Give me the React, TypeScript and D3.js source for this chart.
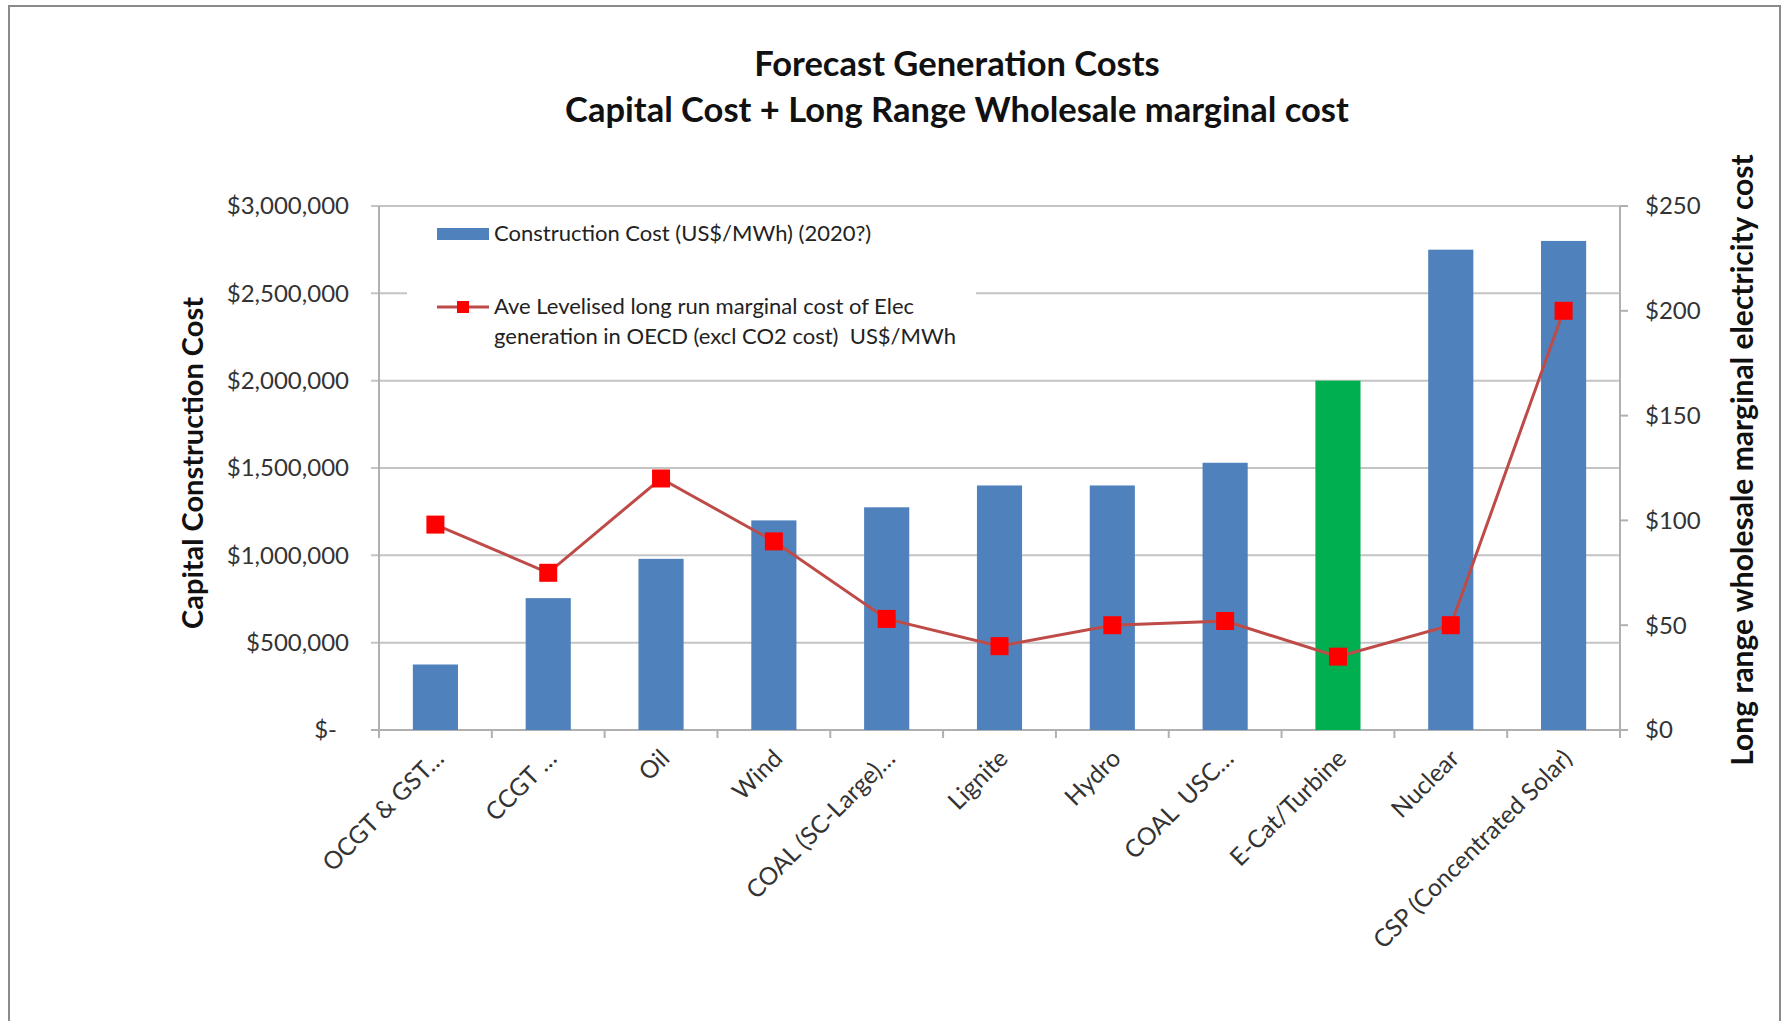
import React from "react";
import * as d3 from "d3";

// Technologies along the category axis
const categories = [
  "OCGT & GST…",
  "CCGT …",
  "Oil",
  "Wind",
  "COAL (SC-Large)…",
  "Lignite",
  "Hydro",
  "COAL  USC…",
  "E-Cat/Turbine",
  "Nuclear",
  "CSP (Concentrated Solar)",
];

// Capital construction cost (left axis)
const constructionCost = [
  375000, 755000, 980000, 1200000, 1275000, 1400000, 1400000, 1530000, 2000000,
  2750000, 2800000,
];

// Levelised long run marginal cost, US$/MWh (right axis)
const marginalCost = [98, 75, 120, 90, 53, 40, 50, 52, 35, 50, 200];

const highlightCategory = "E-Cat/Turbine";

const leftTicks = [0, 500000, 1000000, 1500000, 2000000, 2500000, 3000000];
const rightTicks = [0, 50, 100, 150, 200, 250];

const titleLines = [
  "Forecast Generation Costs",
  "Capital Cost + Long Range Wholesale marginal cost",
];
const leftTitle = "Capital Construction Cost";
const rightTitle = "Long range wholesale marginal electricity cost";
const barLegend = "Construction Cost (US$/MWh) (2020?)";
const lineLegend = [
  "Ave Levelised long run marginal cost of Elec",
  "generation in OECD (excl CO2 cost)  US$/MWh",
];

const W = 1783;
const H = 1021;
const plot = { left: 379, right: 1620, top: 206, bottom: 730 };

const FONT = "Lato, 'Open Sans', sans-serif";
const BLUE = "#4F81BD";
const GREEN = "#00B050";
const LINE_RED = "#BE4B48";
const MARKER_RED = "#FF0000";
const GRID = "#C4C4C4";
const AXIS = "#B0B0B0";

export default function App() {
  const x = d3
    .scaleBand<string>()
    .domain(categories)
    .range([plot.left, plot.right])
    .padding(0);
  const yL = d3.scaleLinear().domain([0, 3000000]).range([plot.bottom, plot.top]);
  const yR = d3.scaleLinear().domain([0, 250]).range([plot.bottom, plot.top]);

  const bw = x.bandwidth();
  const barW = bw * 0.4;
  const cx = (c: string) => (x(c) as number) + bw / 2;

  const fmtL = (v: number) => (v === 0 ? "$-" : "$" + d3.format(",")(v));
  const fmtR = (v: number) => "$" + v;

  const linePath = d3
    .line<number>()
    .x((_, i) => cx(categories[i]))
    .y((d) => yR(d))(marginalCost) as string;

  const boundaries = d3.range(categories.length + 1).map((i) => plot.left + i * bw);
  const markerSize = 18;

  return (
    <svg
      width={W}
      height={H}
      style={{ position: "absolute", left: 0, top: 0, background: "#fff" }}
      fontFamily={FONT}
    >
      <rect x={0} y={0} width={W} height={H} fill="#fff" />
      {/* chart frame */}
      <rect x={9} y={6} width={1771} height={1040} fill="none" stroke="#8A8A8A" strokeWidth={2} />

      {/* title */}
      {titleLines.map((t, i) => (
        <text
          key={t}
          x={957}
          y={76 + i * 46}
          textAnchor="middle"
          fontSize={34.5}
          fontWeight="bold"
          fill="#111"
        >
          {t}
        </text>
      ))}

      {/* gridlines */}
      {leftTicks.map((v) => (
        <line
          key={"g" + v}
          x1={plot.left - 8}
          x2={plot.right}
          y1={yL(v)}
          y2={yL(v)}
          stroke={v === 0 ? AXIS : GRID}
          strokeWidth={2}
        />
      ))}

      {/* axis lines */}
      <line x1={plot.left} x2={plot.left} y1={plot.top} y2={plot.bottom} stroke={AXIS} strokeWidth={2} />
      <line x1={plot.right} x2={plot.right} y1={plot.top} y2={plot.bottom} stroke={AXIS} strokeWidth={2} />
      {rightTicks.map((v) => (
        <line key={"rt" + v} x1={plot.right} x2={plot.right + 8} y1={yR(v)} y2={yR(v)} stroke={AXIS} strokeWidth={2} />
      ))}
      {boundaries.map((bx, i) => (
        <line key={"bt" + i} x1={bx} x2={bx} y1={plot.bottom} y2={plot.bottom + 8} stroke={AXIS} strokeWidth={2} />
      ))}

      {/* bars */}
      {categories.map((c, i) => (
        <rect
          key={"b" + c}
          x={cx(c) - barW / 2}
          y={yL(constructionCost[i])}
          width={barW}
          height={yL(0) - yL(constructionCost[i])}
          fill={c === highlightCategory ? GREEN : BLUE}
        />
      ))}

      {/* legend */}
      <rect x={407} y={214} width={569} height={146} fill="#fff" />
      <rect x={437} y={228} width={52} height={12} fill={BLUE} />
      <text x={494} y={241} fontSize={22} fill="#222">
        {barLegend}
      </text>
      <line x1={437} x2={489} y1={307} y2={307} stroke={LINE_RED} strokeWidth={3} />
      <rect x={457} y={301} width={12} height={12} fill={MARKER_RED} />
      {lineLegend.map((t, i) => (
        <text key={t} x={494} y={314 + i * 30} fontSize={22} fill="#222" style={{ whiteSpace: "pre" }}>
          {t}
        </text>
      ))}

      {/* line series */}
      <path d={linePath} fill="none" stroke={LINE_RED} strokeWidth={3} />
      {marginalCost.map((v, i) => (
        <rect
          key={"m" + i}
          x={cx(categories[i]) - markerSize / 2}
          y={yR(v) - markerSize / 2}
          width={markerSize}
          height={markerSize}
          fill={MARKER_RED}
        />
      ))}

      {/* left tick labels */}
      {leftTicks.map((v) => (
        <text
          key={"ll" + v}
          x={v === 0 ? 337 : 349}
          y={yL(v)}
          dy="0.35em"
          textAnchor="end"
          fontSize={24}
          fill="#333"
        >
          {fmtL(v)}
        </text>
      ))}

      {/* right tick labels */}
      {rightTicks.map((v) => (
        <text key={"rl" + v} x={1645} y={yR(v)} dy="0.35em" fontSize={24} fill="#333">
          {fmtR(v)}
        </text>
      ))}

      {/* category labels */}
      {categories.map((c) => (
        <text
          key={"c" + c}
          transform={`translate(${cx(c) + 10},${plot.bottom + 30}) rotate(-45)`}
          textAnchor="end"
          fontSize={24.5}
          fill="#333"
          style={{ whiteSpace: "pre" }}
        >
          {c}
        </text>
      ))}

      {/* axis titles */}
      <text
        transform={`translate(203,463) rotate(-90)`}
        textAnchor="middle"
        fontSize={29}
        fontWeight="bold"
        fill="#111"
      >
        {leftTitle}
      </text>
      <text
        transform={`translate(1753,460) rotate(-90)`}
        textAnchor="middle"
        fontSize={30}
        fontWeight="bold"
        fill="#111"
      >
        {rightTitle}
      </text>
    </svg>
  );
}
